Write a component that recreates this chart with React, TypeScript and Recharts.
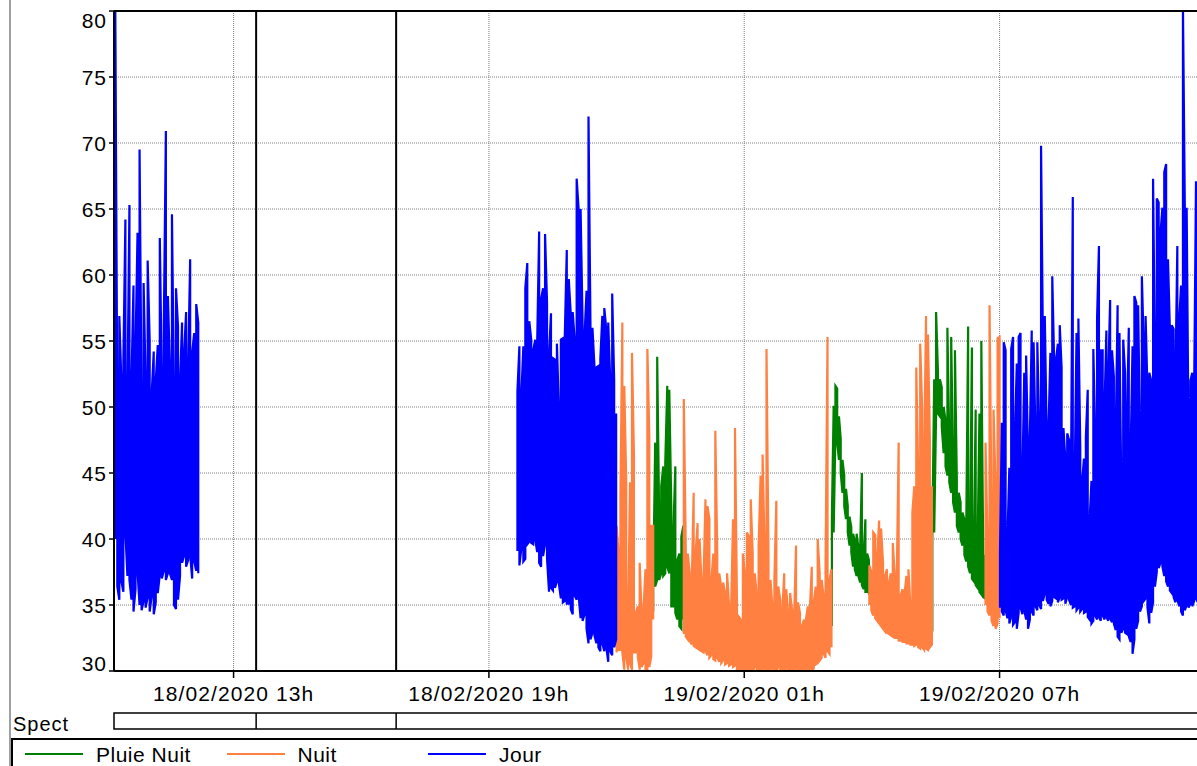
import { LineChart, Line, XAxis, YAxis, CartesianGrid, ReferenceLine, ReferenceArea } from "recharts";

const FONT = "'Liberation Sans', Arial, sans-serif";

// axes (time in hours from 18/02/2020 00h)
const hourTicks = [13, 19, 25, 31];
const hourLabels = ["18/02/2020 13h", "18/02/2020 19h", "19/02/2020 01h", "19/02/2020 07h"];
const levelTicks = [30, 35, 40, 45, 50, 55, 60, 65, 70, 75, 80];
const timeRange = [10.19, 35.71];
const spectMarks = [13.53, 16.82];

// legend
const seriesNames = ["Pluie Nuit", "Nuit", "Jour"];
const seriesColors = ["#008000", "#ff8040", "#0000ff"];

// Jour
const jour1Span = [10.22, 12.17];
const jour1Hi = [80.5, 50, 56.9, 52, 53.5, 64.2, 51, 65.3, 52, 59.2, 54.5, 63.2, 69.5, 50, 59.4, 52, 61.1, 55, 51, 54.2, 52, 54.7, 62.8, 52, 56.5, 70.9, 58.4, 53, 64.6, 51, 59, 56.1, 52, 56.4, 54.1, 57.2, 53, 61.2, 54.1, 55.6, 57.8, 56.4];
const jour1Lo = [40, 36.4, 35.4, 36.8, 36, 40.5, 37.2, 36.9, 35.4, 34.5, 36.2, 37.5, 35, 34.6, 35.3, 34.8, 35.6, 34.5, 35.7, 34.3, 35.2, 35.9, 37.3, 37, 37.6, 36.9, 37.4, 37.4, 36.9, 35, 34.7, 35.4, 37.2, 38.2, 38.7, 37.9, 38.4, 38.8, 37, 38.3, 37.6, 37.4];

const jour2Span = [19.67, 21.99];
const jour2Hi = [51.2, 54.6, 50.9, 54.6, 59, 60.9, 56.5, 55.1, 54.3, 55.1, 54.8, 63.3, 58.2, 59, 63.1, 57.9, 54, 57.1, 53.7, 53.6, 54.8, 49.8, 55.1, 55.2, 55.4, 61.9, 59.7, 57.1, 57.2, 55.1, 67.3, 65, 65, 56.3, 55.4, 58.8, 72, 56, 56, 53.1, 53, 53.1, 53.7, 56.9, 57.5, 55.9, 56.4, 52, 58.6, 52, 49.5];
const jour2Lo = [39.1, 38, 39.3, 38.3, 38.5, 39.6, 39.8, 39.7, 39.6, 40, 39, 38.2, 37.9, 38.7, 39.6, 38.5, 36, 36.3, 36.1, 36.3, 36.8, 36.6, 35.5, 35.2, 35.3, 35.1, 35.1, 34.7, 34.3, 35.7, 35.4, 35.7, 34, 33.8, 34.3, 33.2, 32.1, 32.4, 32.9, 32.7, 32.1, 31.8, 31.5, 32.1, 31.5, 31.8, 30.7, 31.5, 31.2, 31.8, 32.4];

const jour3Span = [31.01, 35.66];
const jour3Hi = [39.1, 48.8, 54.9, 54.3, 40.1, 45.4, 54.4, 55.3, 48, 53.3, 55.3, 55.6, 44.7, 52.6, 53.9, 46.4, 47.7, 55.8, 54.9, 48, 54.9, 48.4, 69.8, 54.6, 56.9, 48, 48.4, 54.1, 59.9, 53.5, 53.6, 54.8, 56.2, 53, 48.4, 46.1, 48, 47.5, 43.8, 65.9, 44.4, 55.6, 56.7, 47, 44.4, 46.1, 47.7, 51.3, 41.4, 44.4, 54.4, 48, 56.7, 62.2, 54.3, 54.3, 50, 55.8, 52.3, 58.1, 54.3, 52.3, 48, 57.7, 55.6, 43.8, 55.1, 52.6, 49, 56, 46.7, 54.6, 58.4, 57.9, 57.7, 48, 59.9, 54.6, 56.9, 51.3, 52.6, 52, 67.3, 53.9, 65.8, 65.5, 63.2, 65.1, 67.8, 68.4, 61.2, 55.9, 56.2, 55.9, 52.3, 62.2, 56.6, 59.2, 80.5, 65.3, 65.1, 47.7, 52, 52.6, 51.3, 67.1, 60.5];
const jour3Lo = [34.8, 34.5, 34.2, 34.6, 34, 33.6, 34.1, 33.5, 33.7, 33.2, 34.4, 34.8, 34.3, 34.6, 33.9, 33.2, 33.9, 34.5, 34.2, 34.9, 34.6, 35, 34.7, 35.3, 35.9, 35.4, 35.1, 34.9, 35.3, 35.6, 35.5, 35.2, 35.6, 35.4, 35.5, 35.1, 35.6, 35.4, 35, 34.8, 34.9, 34.6, 34.8, 34.5, 34.7, 34.4, 34.5, 34.1, 33.9, 33.6, 33.8, 34.2, 33.9, 34.1, 33.8, 34.2, 33.9, 34.1, 33.8, 34, 33.7, 33.6, 33.1, 32.6, 32.4, 32.9, 33.2, 32.9, 32.8, 32.6, 32.2, 31.3, 32.4, 33.2, 33.8, 34.5, 34.9, 35.3, 35.5, 34.8, 33.6, 34.4, 35.2, 36.4, 37.5, 37.8, 38.2, 37.9, 37.2, 36.8, 36.4, 36.1, 35.9, 35.6, 35.2, 35.4, 34.9, 34.5, 34.2, 34.6, 35, 34.8, 35.1, 34.9, 35.3, 35.5, 35.2];

// Nuit
const nuit1Span = [22.0, 22.86];
const nuit1Hi = [41, 39, 43.3, 56.4, 51.6, 44.5, 34.4, 44.3, 54.1, 46.5, 34.4, 34.9, 38.2, 34.4, 34.7, 37.7, 54.4, 47.8, 41, 41];
const nuit1Lo = [31.4, 31.6, 31.6, 31.4, 30.1, 31.1, 30.1, 30.6, 30.1, 31.4, 31.4, 31.1, 30.1, 30.3, 30.6, 30.1, 30, 30.3, 31.1, 33.9];

const nuit2Span = [23.58, 27.05];
const nuit2Hi = [50.6, 39.2, 38.9, 37.4, 36.4, 43.5, 38.9, 41.2, 40, 36.7, 36.9, 43, 42.5, 41.5, 36.9, 38.9, 48.2, 38.9, 37.4, 36.4, 36.7, 35.9, 37.4, 34.9, 34.4, 41.5, 48.4, 35.2, 34.1, 33.9, 38.9, 37.4, 40.5, 40.2, 43, 38.9, 37.4, 35.9, 39.5, 44.8, 46.4, 39.5, 54.4, 38.9, 36.9, 34.9, 36.9, 42.9, 36.4, 35.4, 34.4, 37.4, 36.2, 34.4, 35.9, 34.6, 33.9, 39.5, 35.2, 34.4, 33.4, 33.9, 33.9, 34.9, 34.6, 37.9, 35.2, 36.4, 40, 37.4, 36.9, 35.7, 38.4, 55.3, 36.9, 37.7];
const nuit2Lo = [32.8, 32.6, 32.4, 32.3, 32, 31.9, 31.8, 31.7, 31.6, 31.5, 31.4, 31.5, 31.2, 31, 31.2, 30.9, 30.8, 31, 30.7, 30.6, 30.8, 30.5, 30.6, 30.4, 30.5, 30.3, 30.4, 30, 29.8, 30.2, 29.8, 30.1, 29.9, 30.2, 29.8, 30, 30.3, 29.8, 30.1, 29.9, 30.2, 29.8, 30, 30.1, 29.8, 30.2, 29.9, 30, 30.3, 29.8, 30.1, 29.9, 30.2, 29.8, 30, 30.1, 29.8, 30.2, 29.9, 30, 29.8, 30.1, 30, 29.9, 30.2, 30, 30.2, 30.5, 30.6, 30.8, 31, 31.3, 31, 31.5, 31.3, 31.8];

const nuit3Span = [27.94, 29.41];
const nuit3Hi = [38, 37.5, 40.5, 40.3, 38.5, 41.4, 40.8, 38.2, 37.2, 37.7, 36.7, 37.4, 39.7, 37.2, 36.7, 47.3, 35.7, 36.2, 35.9, 37.2, 37.7, 34.9, 42, 44, 53, 45, 54.8, 50, 46, 56.9, 55.5, 47, 44];
const nuit3Lo = [35, 34.6, 34.2, 34, 33.8, 33.6, 33.4, 33.2, 33, 32.9, 32.8, 32.7, 32.6, 32.5, 32.5, 32.3, 32.3, 32.2, 32.2, 32.1, 32.1, 32, 32, 31.9, 32, 31.8, 31.7, 31.8, 31.6, 31.7, 31.6, 31.8, 32];

const nuit4Span = [30.67, 31.0];
const nuit4Hi = [47.3, 40, 57.7, 42, 49.8, 44, 55.2, 55.3];
const nuit4Lo = [35, 34.5, 34.2, 33.8, 33.4, 33.2, 33.6, 34];

// Pluie Nuit
const pluie1Span = [22.86, 23.57];
const pluie1Hi = [36.4, 47.3, 53.8, 41.5, 44, 45.5, 45.8, 51.6, 51.3, 42.5, 40.5, 45.5, 38.4, 38.9, 40.2, 41];
const pluie1Lo = [34.5, 36.4, 36.9, 36.9, 37.4, 37.2, 37.4, 37.9, 37.4, 34.9, 34.9, 34.4, 33.9, 33.4, 33.2, 33.9];

const pluie2Span = [27.06, 27.93];
const pluie2Hi = [41.7, 50.1, 51.6, 51.4, 49.3, 47.6, 46, 44.8, 43.8, 42.5, 41.7, 40.9, 40.4, 39.9, 40.4, 39.4, 39.1, 45, 38.9, 41.5, 38.9, 38.4];
const pluie2Lo = [33.4, 40.5, 48.1, 47.3, 46, 45, 43.5, 42.5, 41.5, 40.5, 39.5, 39, 37.9, 37.7, 37.2, 37.2, 36.7, 36.5, 36.2, 36, 36, 35.8];

const pluie3Span = [29.42, 30.66];
const pluie3Hi = [40.5, 52.1, 57.2, 52.6, 52.1, 51.5, 50, 49, 56, 47.5, 55.3, 46, 54.3, 44.5, 43.5, 42.8, 42, 41.5, 41, 56.1, 40.3, 54.5, 39.7, 49.8, 39.3, 49.5, 55, 39, 38.8];
const pluie3Lo = [33, 40.5, 49.5, 49.5, 49.3, 48.5, 46.5, 45.5, 44.8, 44.3, 43.5, 42.8, 42, 41, 40.5, 40, 39.5, 38.8, 38.3, 37.9, 37.4, 37, 36.8, 36.5, 36.3, 36, 35.8, 35.6, 35.5];

type Pt = { t: number; v: number | null };

// each sample is a vertical stroke between its low and high; direction
// alternates so neighbouring strokes join at top and bottom (dense trace)
function segment(span: number[], lo: number[], hi: number[]): Pt[] {
  const n = hi.length;
  const step = (span[1] - span[0]) / (n - 1);
  const pts: Pt[] = [];
  for (let i = 0; i < n; i++) {
    const t = span[0] + i * step;
    if (i % 2 === 0) pts.push({ t, v: lo[i] }, { t, v: hi[i] });
    else pts.push({ t, v: hi[i] }, { t, v: lo[i] });
  }
  return pts;
}

function join(...segs: Pt[][]): Pt[] {
  const out: Pt[] = [];
  segs.forEach((s, k) => {
    if (k > 0) out.push({ t: s[0].t - 0.001, v: null });
    out.push(...s);
  });
  return out;
}

const pluieData = join(
  segment(pluie1Span, pluie1Lo, pluie1Hi),
  segment(pluie2Span, pluie2Lo, pluie2Hi),
  segment(pluie3Span, pluie3Lo, pluie3Hi)
);
const nuitData = join(
  segment(nuit1Span, nuit1Lo, nuit1Hi),
  segment(nuit2Span, nuit2Lo, nuit2Hi),
  segment(nuit3Span, nuit3Lo, nuit3Hi),
  segment(nuit4Span, nuit4Lo, nuit4Hi)
);
const jourData = join(
  segment(jour1Span, jour1Lo, jour1Hi),
  segment(jour2Span, jour2Lo, jour2Hi),
  segment(jour3Span, jour3Lo, jour3Hi)
);
const seriesData = [pluieData, nuitData, jourData];

const spectData = [
  { t: timeRange[0], v: 0 },
  { t: timeRange[1], v: 1 },
];

function YTick({ x, y, payload }: any) {
  const v = payload.value;
  const dy = v === 80 ? 17 : v === 30 ? 0 : 8;
  return (
    <text x={x} y={y + dy} textAnchor="end" fontSize={21} fill="#000" fontFamily={FONT} letterSpacing={1}>
      {v}
    </text>
  );
}

function XTick({ x, y, payload }: any) {
  const label = hourLabels[hourTicks.indexOf(payload.value)];
  return (
    <text x={x} y={y + 23} textAnchor="middle" fontSize={21} fill="#000" fontFamily={FONT} letterSpacing={1.1}>
      {label}
    </text>
  );
}

export default function App() {
  return (
    <div
      style={{
        position: "absolute",
        left: 0,
        top: 0,
        width: 1197,
        height: 766,
        overflow: "hidden",
        background: "#fff",
        fontFamily: FONT,
      }}
    >
      <div style={{ position: "absolute", left: 9, top: 0, width: 2, height: 766, background: "#a0a0a0" }} />

      <div style={{ position: "absolute", left: 0, top: 0 }}>
        <LineChart width={1200} height={712} margin={{ top: 11, right: 0, bottom: 0, left: 0 }}>
          <CartesianGrid stroke="#808080" strokeDasharray="1 1" />
          <XAxis
            dataKey="t"
            type="number"
            domain={timeRange}
            allowDataOverflow
            ticks={hourTicks}
            interval={0}
            height={41}
            tickSize={7}
            tickMargin={0}
            axisLine={{ stroke: "#000", strokeWidth: 2 }}
            tickLine={{ stroke: "#000", strokeWidth: 1.5 }}
            tick={<XTick />}
          />
          <YAxis
            type="number"
            domain={[30, 80]}
            allowDataOverflow
            ticks={levelTicks}
            interval={0}
            width={114}
            tickSize={5}
            tickMargin={2}
            axisLine={{ stroke: "#000", strokeWidth: 2 }}
            tickLine={{ stroke: "#000", strokeWidth: 1.5 }}
            tick={<YTick />}
          />
          {seriesNames.map((name, i) => (
            <Line
              key={name}
              name={name}
              data={seriesData[i]}
              dataKey="v"
              type="linear"
              stroke={seriesColors[i]}
              strokeWidth={2.2}
              strokeLinejoin="miter"
              dot={false}
              activeDot={false}
              connectNulls={false}
              isAnimationActive={false}
            />
          ))}
          <ReferenceLine y={80} stroke="#000" strokeWidth={2} />
          {spectMarks.map((h) => (
            <ReferenceLine key={h} x={h} stroke="#000" strokeWidth={2} />
          ))}
        </LineChart>
      </div>

      {/* Spect row */}
      <div style={{ position: "absolute", left: 13, top: 714, fontSize: 20, lineHeight: "20px", letterSpacing: 1, color: "#000" }}>
        Spect
      </div>
      <div style={{ position: "absolute", left: 0, top: 712 }}>
        <LineChart width={1200} height={18} data={spectData} margin={{ top: 1, right: 0, bottom: 1, left: 114 }}>
          <XAxis dataKey="t" type="number" domain={timeRange} allowDataOverflow hide />
          <YAxis type="number" domain={[0, 1]} allowDataOverflow hide />
          <Line dataKey="v" stroke="none" dot={false} activeDot={false} isAnimationActive={false} />
          <ReferenceArea
            x1={timeRange[0]}
            x2={timeRange[1]}
            y1={0}
            y2={1}
            fill="#fff"
            fillOpacity={0}
            stroke="#000"
            strokeWidth={1.5}
            ifOverflow="visible"
          />
          {spectMarks.map((h) => (
            <ReferenceLine key={h} x={h} stroke="#000" strokeWidth={1.5} ifOverflow="visible" />
          ))}
        </LineChart>
      </div>

      {/* legend */}
      <div
        style={{
          position: "absolute",
          left: 11,
          top: 738,
          width: 1200,
          height: 40,
          borderTop: "2px solid #000",
          borderLeft: "2px solid #000",
        }}
      >
        {seriesNames.map((name, i) => (
          <div key={name}>
            <div
              style={{
                position: "absolute",
                left: 12 + i * 201.5,
                top: 13,
                width: 58,
                height: 2,
                background: seriesColors[i],
              }}
            />
            <div
              style={{
                position: "absolute",
                left: 83 + i * 201.5,
                top: 4,
                fontSize: 21,
                lineHeight: "21px",
                letterSpacing: 0.5,
                color: "#000",
                whiteSpace: "nowrap",
              }}
            >
              {name}
            </div>
          </div>
        ))}
      </div>
    </div>
  );
}
